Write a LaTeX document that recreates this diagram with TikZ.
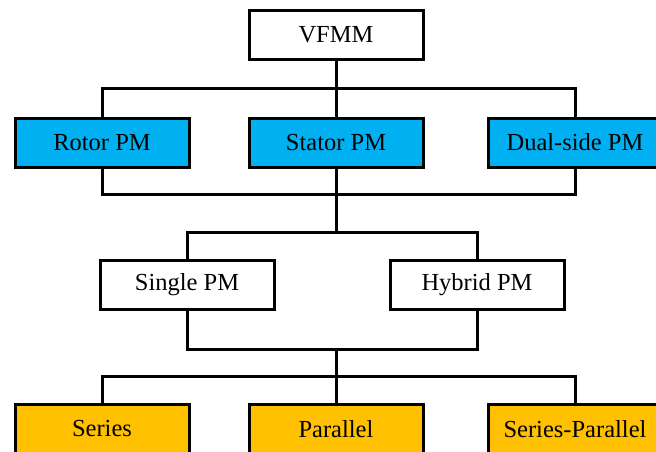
\documentclass[tikz,border=0pt]{standalone}
\usepackage{fontspec}
\setmainfont{Liberation Serif}
\definecolor{pmblue}{HTML}{00B0F0}
\definecolor{pmorange}{HTML}{FFC000}
\begin{document}
\begin{tikzpicture}[x=1pt,y=-1pt,
  line width=3pt,
  box/.style={draw=black, rectangle, minimum width=174pt, minimum height=49pt,
    inner sep=0pt, font=\fontsize{24.5}{28}\selectfont, text=black},
  bluebox/.style={box, fill=pmblue},
  orangebox/.style={box, fill=pmorange},
  whitebox/.style={box, fill=white}]
\useasboundingbox (0,0) rectangle (656,452);
\clip (0,0) rectangle (656,452);

% top level
\node[whitebox] (vfmm) at (336,35) {VFMM};

% magnet location
\node[bluebox] (rotor)  at (102,142.5) {Rotor PM};
\node[bluebox] (stator) at (336,142.5) {Stator PM};
\node[bluebox] (dual)   at (575,142.5) {Dual-side PM};

% magnet type
\node[whitebox] (single) at (187,285) {Single PM};
\node[whitebox] (hybrid) at (477,285) {Hybrid PM};

% magnetic circuit arrangement
\node[orangebox] (series)   at (102,429) {Series};
\node[orangebox] (parallel) at (336,429) {Parallel};
\node[orangebox] (serpar)   at (575,429) {Series-Parallel};

% bus junctions
\coordinate (b1) at (336,88);
\coordinate (b2) at (336,194);
\coordinate (b3) at (336,232);
\coordinate (b4) at (336,349);
\coordinate (b5) at (336,376);

\draw (vfmm.south) -- (stator.north);
\draw (rotor.north) |- (b1) -| (dual.north);
\draw (rotor.south) |- (b2) -| (dual.south);
\draw (stator.south) -- (b3);
\draw (single.north) |- (b3) -| (hybrid.north);
\draw (single.south) |- (b4) -| (hybrid.south);
\draw (b4) -- (parallel.north);
\draw (series.north) |- (b5) -| (serpar.north);
\end{tikzpicture}
\end{document}
